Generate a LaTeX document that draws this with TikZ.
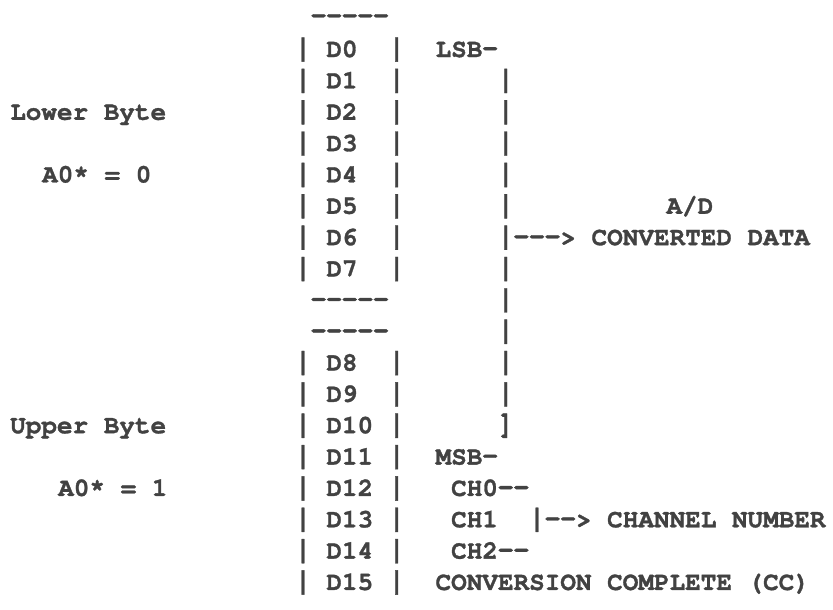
\documentclass[tikz,border=0pt]{standalone}
\usepackage{fontspec}
\setmonofont{texgyrecursor}[Extension=.otf, UprightFont=*-regular,
    BoldFont=*-bold, BoldFeatures={FakeBold=1.2}]
\colorlet{ink}{black!74}
% typed bar and dash, as tall and as long as the typewriter ones
\newcommand{\tbar}{\scalebox{1}[1.2]{|}}
\newcommand{\tbrk}{\scalebox{1}[1.2]{]}}
\newcommand{\tdash}{\makebox[0.6em]{\scalebox{1.05}[1.15]{-}}}
\tikzset{
    typed/.style={inner sep=0pt, anchor=base west, text=ink,
        font=\ttfamily\bfseries\fontsize{26}{31}\selectfont}
}

\begin{document}
\begin{tikzpicture}[x=15.6pt, y=-31.35pt, every node/.style={typed}]
    % Page frame (one unit = one typed column / one typed line)
    \useasboundingbox (-18.91,-1.82) rectangle (34.49,17.61);

    % Register bits D0..D15 between the box sides
    \foreach \bit in {0,...,15} {
        \pgfmathtruncatemacro{\row}{\bit<8 ? \bit : \bit+2}
        \node (lbar\bit) at (0,\row) {\tbar};
        \node (d\bit) at (2,\row) {D\bit};
        \node (rbar\bit) at (6,\row) {\tbar};
    }

    % Top and bottom edges of the two bytes
    \node (topedge) at (1,-1.05) {\tdash\tdash\tdash\tdash\tdash};
    \node (lowedge) at (1,8) {\tdash\tdash\tdash\tdash\tdash};
    \node (uppedge) at (1,9) {\tdash\tdash\tdash\tdash\tdash};

    % Bracket over the converted data bits
    \foreach \row in {1,...,11}
        \node (brk\row) at (13,\row) {\tbar};
    \node (brk12) at (13,12) {\tbrk};

    % Data bits
    \node (lsb) at (9,0) {LSB\tdash};
    \node (msb) at (9,13) {MSB\tdash};
    \node (ad) at (23.8,5) {A/D};
    \node (dataarr) at (14,6) {\tdash\tdash\tdash>};
    \node (data) at (19,6) {CONVERTED DATA};

    % Channel bits
    \node (ch0) at (10,14) {CH0\tdash\tdash};
    \node (ch1) at (10,15) {CH1};
    \node (chbar) at (15,15) {\tbar};
    \node (charr) at (16,15) {\tdash\tdash>};
    \node (chan) at (20,15) {CHANNEL NUMBER};
    \node (ch2) at (10,16) {CH2\tdash\tdash};
    \node (cc) at (9,17) {CONVERSION COMPLETE (CC)};

    % Byte labels
    \node (lower) at (-18.27,2) {Lower Byte};
    \node (alow) at (-16.22,4) {A0* = 0};
    \node (upper) at (-18.27,12) {Upper Byte};
    \node (aupp) at (-15.19,14) {A0* = 1};
\end{tikzpicture}
\end{document}
